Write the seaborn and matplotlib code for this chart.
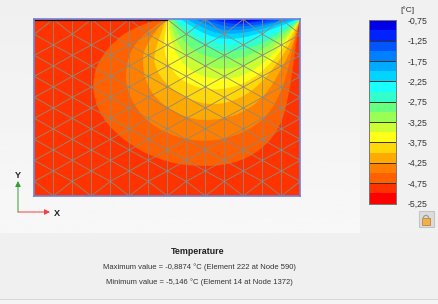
import numpy as np
import matplotlib
matplotlib.use("Agg")
import matplotlib.pyplot as plt
from matplotlib.colors import ListedColormap
from matplotlib.patches import PathPatch, Rectangle, Wedge
from matplotlib.path import Path
import seaborn as sns

# Colour bands, coldest to warmest, with the legend's tick labels
band_colors = ["#0000e6", "#0022ff", "#0055ff", "#0080ff", "#00aaff", "#00d4ff",
               "#19ffff", "#33ffcc", "#66ff80", "#99ff55", "#ccff33", "#ffff19",
               "#ffd80a", "#ffaa00", "#ff8000", "#ff6000", "#ff3300", "#ff0000"]
band_values = [-0.875, -1.125, -1.375, -1.625, -1.875, -2.125, -2.375, -2.625, -2.875,
               -3.125, -3.375, -3.625, -3.875, -4.125, -4.375, -4.625, -4.875, -5.125]
tick_labels = ["-0,75", "-1,25", "-1,75", "-2,25", "-2,75",
               "-3,25", "-3,75", "-4,25", "-4,75", "-5,25"]

# Isotherms (model x, model depth), warmest ring first
iso_m475 = [(478,58),(405,80),(340,125),(298,180),(280,230),(282,300),(318,372),(400,442),(500,487),(600,500),(700,492),(782,452),(842,382),(867,280),(882,180),(897,58)]
iso_m450 = [(495,58),(405,115),(372,220),(392,302),(448,372),(530,412),(610,425),(700,412),(792,362),(842,282),(872,180),(898,58)]
iso_m425 = [(498,58),(436,128),(426,200),(448,272),(498,322),(570,357),(640,362),(722,342),(792,292),(842,212),(882,130),(899,58)]
iso_m400 = [(500,58),(461,150),(466,212),(518,272),(600,312),(680,312),(762,272),(832,192),(882,110),(899,58)]
iso_m375 = [(503,58),(487,130),(507,202),(558,252),(640,272),(722,257),(792,212),(862,130),(899,58)]
iso_m350 = [(505,58),(512,130),(548,192),(598,227),(670,240),(742,224),(812,172),(872,105),(899,58)]
iso_m325 = [(508,58),(527,130),(578,182),(628,202),(680,208),(752,192),(822,142),(882,85),(899,58)]
iso_m300 = [(512,58),(547,127),(608,167),(680,180),(752,167),(827,122),(887,72),(899,58)]
iso_m275 = [(520,58),(567,112),(628,147),(680,157),(762,142),(837,102),(892,65),(897,58)]
iso_m250 = [(530,58),(587,107),(638,127),(680,137),(762,124),(847,87),(895,58)]
iso_m225 = [(543,58),(607,102),(680,120),(762,107),(857,72),(892,58)]
iso_m200 = [(562,58),(627,94),(680,104),(762,94),(862,64),(885,58)]
iso_m175 = [(587,58),(647,87),(700,92),(772,82),(865,58)]
iso_m150 = [(612,58),(667,79),(720,80),(792,72),(850,58)]
iso_m125 = [(637,58),(687,72),(740,72),(815,58)]
iso_m100 = [(665,58),(707,65),(760,64),(795,58)]
isotherms = [iso_m475, iso_m450, iso_m425, iso_m400, iso_m375, iso_m350, iso_m325, iso_m300,
             iso_m275, iso_m250, iso_m225, iso_m200, iso_m175, iso_m150, iso_m125, iso_m100]

# Mesh node depths on the two alternating kinds of column
mesh_columns = [103 + 57 * i for i in range(15)]
even_depths = [58, 103, 166, 229, 292, 355, 418, 481, 544, 588]
odd_depths = [58, 135, 198, 261, 324, 387, 450, 513, 588]

title_text = "Temperature"
max_text = "Maximum value = -0,8874 °C (Element 222 at Node 590)"
min_text = "Minimum value = -5,146 °C (Element 14 at Node 1372)"

sns.set_theme(style="white")
plt.rcParams["font.family"] = ["Liberation Sans", "DejaVu Sans"]

W, H = 438, 304
fig = plt.figure(figsize=(W / 100, H / 100), dpi=100)


def px_axes(x0, y0, x1, y1, **kw):
    return fig.add_axes([x0 / W, 1 - y1 / H, (x1 - x0) / W, (y1 - y0) / H], **kw)


# Background and overlay in pixel units
bg = px_axes(0, 0, W, H)
bg.imshow(np.linspace(0, 1, 100)[:, None], extent=(0, W, 233, 0), aspect="auto",
          cmap=ListedColormap(plt.cm.gray(np.linspace(0.94, 0.97, 32))), vmin=0, vmax=1)
bg.add_patch(Rectangle((0, 233), W, 66, color="#f0f0f0", lw=0))
bg.add_patch(Rectangle((0, 299), W, 1.2, color="#d8d8d8", lw=0))
bg.add_patch(Rectangle((0, 300), W, 4, color="#f5f5f5", lw=0))
bg.add_patch(Rectangle((360, 0), W - 360, 233, color="#f1f1f1", lw=0))
bg.set_xlim(0, W)
bg.set_ylim(H, 0)
bg.axis("off")

# Axis triad
bg.annotate("", xy=(50, 212), xytext=(18, 212),
            arrowprops=dict(arrowstyle="-|>", color="#f04040", lw=0.7, mutation_scale=8, shrinkA=0, shrinkB=0))
bg.annotate("", xy=(18, 181), xytext=(18, 212),
            arrowprops=dict(arrowstyle="-|>", color="#2f9f2f", lw=0.7, mutation_scale=8, shrinkA=0, shrinkB=0))
bg.text(18, 175, "Y", fontsize=6.6, fontweight="bold", color="#222222", ha="center", va="center")
bg.text(57, 213, "X", fontsize=6.6, fontweight="bold", color="#222222", ha="center", va="center")

# Texts
bg.text(198, 252, title_text, fontsize=6.4, fontweight="bold", color="#222222", ha="center", va="center")
bg.text(199, 267, max_text, fontsize=5.5, color="#333333", ha="center", va="center")
bg.text(199, 282, min_text, fontsize=5.5, color="#333333", ha="center", va="center")
bg.text(407, 10.5, "[°C]", fontsize=6.0, color="#333333", ha="center", va="center")

# Lock button
bg.add_patch(Rectangle((418.5, 211), 15.5, 15.5, fc="#dcdcdc", ec="#c4c4c4", lw=0.8))
bg.add_patch(Wedge((426, 218), 3.2, 180, 360, width=1.2, color="#9a9a9a", lw=0))
bg.add_patch(Rectangle((422, 218), 8, 6.5, fc="#f2b04a", ec="#b07a30", lw=0.5))

# Temperature field
ax = px_axes(34.3, 19.3, 300, 196)
ax.set_xlim(103, 900)
ax.set_ylim(588, 58)
ax.set_facecolor(band_colors[16])
ring_colors = band_colors[15::-1]
for z, (iso, color) in enumerate(zip(isotherms, ring_colors)):
    pts = np.array(iso, dtype=float)
    verts = [pts[0]]
    codes = [Path.MOVETO]
    for i in range(1, len(pts) - 1):
        end = pts[-1] if i == len(pts) - 2 else (pts[i] + pts[i + 1]) / 2
        verts += [pts[i], end]
        codes += [Path.CURVE3, Path.CURVE3]
    verts.append(pts[0])
    codes.append(Path.CLOSEPOLY)
    ax.add_patch(PathPatch(Path(verts, codes), fc=color, ec=color, lw=0.2, zorder=2 + z * 0.01))

# Mesh
mesh_color = "#8f8a78"
mesh_lw = 0.62
for i, x in enumerate(mesh_columns):
    ax.plot([x, x], [58, 588], color=mesh_color, lw=mesh_lw, zorder=3)
    if i == len(mesh_columns) - 1:
        break
    nx = mesh_columns[i + 1]
    e_x, o_x = (x, nx) if i % 2 == 0 else (nx, x)
    for k, d in enumerate(even_depths[1:-1]):
        ax.plot([e_x, o_x], [d, odd_depths[k]], color=mesh_color, lw=mesh_lw, zorder=3)
        ax.plot([e_x, o_x], [d, odd_depths[k + 1]], color=mesh_color, lw=mesh_lw, zorder=3)
ax.set_xticks([])
ax.set_yticks([])
for side, sp in ax.spines.items():
    sp.set_visible(True)
    sp.set_color("#6f80dc")
    sp.set_linewidth(1.2)
    sp.set_zorder(5)
ax.plot([103, 500], [59, 59], color="#220000", lw=0.9, zorder=4)

# Legend bar
cax = px_axes(368.5, 20.3, 396, 203.5)
sns.heatmap(np.array(band_values)[:, None], ax=cax, cmap=ListedColormap(band_colors[::-1]),
            cbar=False, xticklabels=False, vmin=-5.25, vmax=-0.75, linewidths=0)
cax.hlines(range(2, 18, 2), 0, 1, color="#333320", lw=0.7)
cax.yaxis.tick_right()
cax.set_yticks(range(0, 19, 2))
cax.set_yticklabels(tick_labels, rotation=0, fontsize=6.3, color="#333333")
cax.tick_params(axis="y", length=0, pad=8)
cax.set_ylabel("")
for sp in cax.spines.values():
    sp.set_visible(True)
    sp.set_color("#777777")
    sp.set_linewidth(0.7)

fig.savefig("out.png", dpi=100)
